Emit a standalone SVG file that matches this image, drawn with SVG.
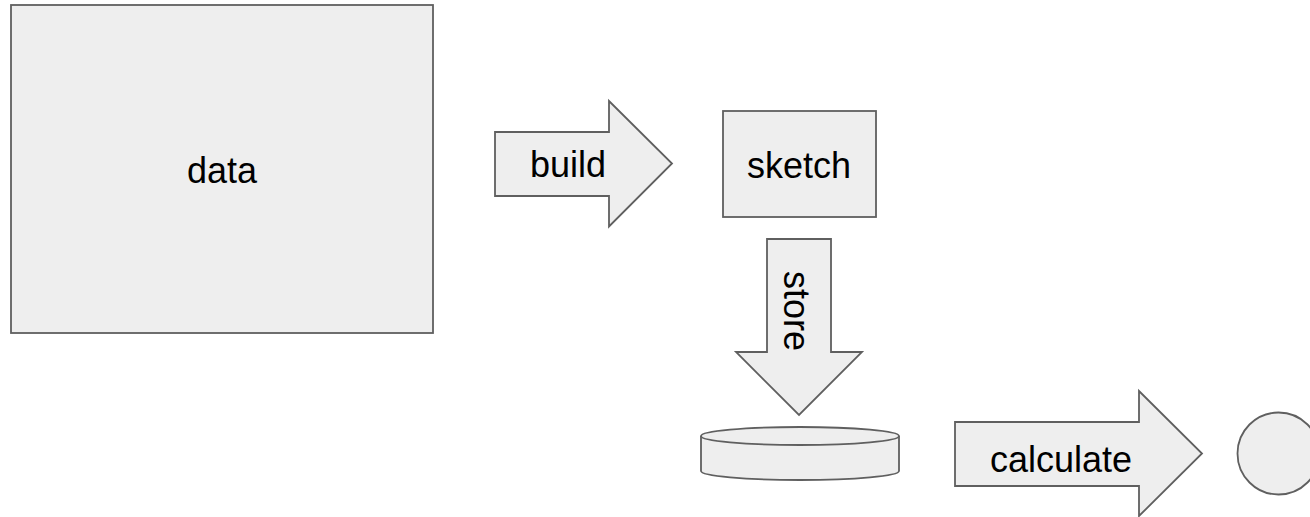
<svg xmlns="http://www.w3.org/2000/svg" width="1310" height="517" viewBox="0 0 1310 517">
<style>
.s{fill:#eeeeee;stroke:#5f5f5f;stroke-width:1.8;stroke-linejoin:miter}
.t{font-family:"Liberation Sans",Arial,sans-serif;font-size:36px;fill:#000;text-anchor:middle}
</style>
<rect width="1310" height="517" fill="#ffffff"/>
<g id="data">
<rect class="s" x="11" y="5" width="422" height="328"/>
<text class="t" x="222" y="183">data</text>
</g>
<g id="sketch">
<rect class="s" x="723" y="111" width="153" height="106"/>
<text class="t" x="799" y="178">sketch</text>
</g>
<g id="storage">
<path class="s" d="M701,436 L701,471 A99,9 0 0 0 899,471 L899,436"/>
<ellipse class="s" cx="800" cy="436" rx="99" ry="9"/>
</g>
<g id="result">
<circle class="s" cx="1278.5" cy="453.5" r="41"/>
</g>
<g id="connectors">
<g id="build">
<polygon class="s" points="495,132 609,132 609,101 672,163.5 609,226.5 609,196 495,196"/>
<text class="t" x="568" y="177">build</text>
</g>
<g id="store">
<polygon class="s" points="767,239 831,239 831,352 862,352 799,415 736,352 767,352"/>
<text class="t" transform="translate(784,311) rotate(90)" x="0" y="0">store</text>
</g>
<g id="calculate">
<polygon class="s" points="955,422 1139,422 1139,391 1202,453.5 1139,516 1139,486 955,486"/>
<text class="t" x="1061" y="472">calculate</text>
</g>
</g>
</svg>
